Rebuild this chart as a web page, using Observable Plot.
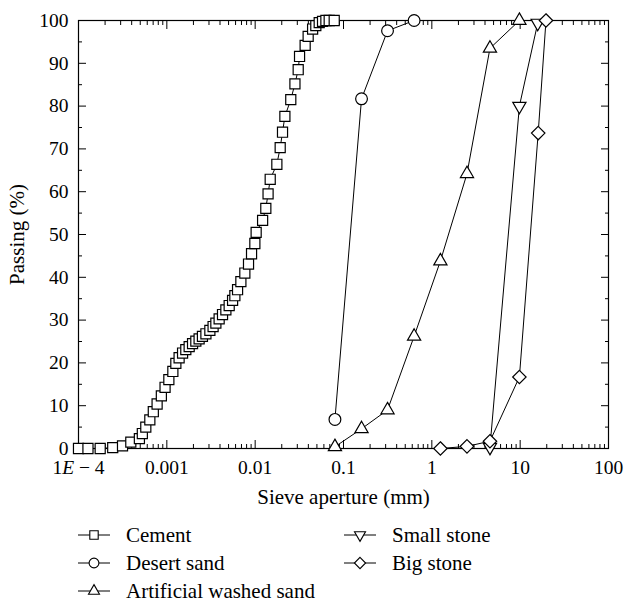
<!DOCTYPE html>
<html><head><meta charset="utf-8">
<script src="https://cdn.jsdelivr.net/npm/d3@7"></script>
<script src="https://cdn.jsdelivr.net/npm/@observablehq/plot@0.6"></script>
<style>
body{margin:0;background:#fff;}
#legend{position:relative;width:624px;height:91px;font-family:"Liberation Serif","Times New Roman",Times,"DejaVu Serif",serif;font-size:21px;color:#000;}
.item{position:absolute;height:28px;display:flex;align-items:center;white-space:nowrap;}
.item svg{display:block;}
#chart svg text{font-family:"Liberation Serif","Times New Roman",Times,"DejaVu Serif",serif !important;}
</style></head><body>
<div id="chart"></div><div id="legend"></div>
<script>
// ---- data ----
const seriesNames = ["Cement", "Desert sand", "Artificial washed sand", "Small stone", "Big stone"];
const cementSize = [1.0e-4, 1.28e-4, 1.76e-4, 2.44e-4, 3.15e-4, 3.91e-4, 4.89e-4, 5.28e-4, 5.78e-4, 6.42e-4,
  7.03e-4, 7.76e-4, 8.67e-4, 9.55e-4, 1.054e-3, 1.17e-3, 1.265e-3, 1.377e-3, 1.507e-3, 1.64e-3,
  1.79e-3, 1.955e-3, 2.13e-3, 2.32e-3, 2.53e-3, 2.77e-3, 3.07e-3, 3.34e-3, 3.59e-3, 3.91e-3,
  4.27e-3, 4.66e-3, 5.08e-3, 5.55e-3, 5.89e-3, 6.32e-3, 6.89e-3, 7.64e-3, 8.41e-3, 9.10e-3,
  9.92e-3, 1.026e-2, 1.214e-2, 1.32e-2, 1.40e-2, 1.48e-2, 1.76e-2, 1.92e-2, 2.04e-2, 2.17e-2,
  2.53e-2, 2.82e-2, 3.07e-2, 3.18e-2, 3.68e-2, 3.98e-2, 4.47e-2, 4.86e-2, 5.31e-2, 5.79e-2,
  6.32e-2, 6.89e-2, 7.85e-2];
const cementPassing = [0, 0, 0, 0.2, 0.6, 1.5, 2.3, 3.5, 5.0, 6.7,
  8.6, 10.4, 12.3, 14.3, 16.1, 18.0, 19.9, 21.2, 22.3, 23.1,
  23.8, 24.5, 25.1, 25.6, 26.2, 26.8, 27.6, 28.5, 29.3, 30.3,
  31.3, 32.4, 33.4, 34.6, 35.7, 37.1, 39.0, 41.0, 43.1, 45.5,
  47.9, 50.5, 53.3, 56.1, 59.5, 62.9, 66.4, 70.3, 73.9, 77.6,
  81.5, 85.2, 88.5, 91.6, 94.2, 96.3, 98.0, 98.8, 99.5, 99.8,
  100, 100, 100];
const desertSandSize = [0.08, 0.16, 0.315, 0.63];
const desertSandPassing = [6.8, 81.7, 97.6, 100];
const washedSandSize = [0.08, 0.16, 0.315, 0.63, 1.25, 2.5, 4.55, 9.8];
const washedSandPassing = [0.4, 4.6, 9.0, 26.2, 43.8, 64.2, 93.5, 100];
const smallStoneSize = [4.55, 9.8, 15.8];
const smallStonePassing = [0.3, 80.0, 99.4];
const bigStoneSize = [1.25, 2.5, 4.55, 9.8, 16.0, 19.6];
const bigStonePassing = [0, 0.5, 1.7, 16.7, 73.7, 100];
const xTickValues = [1e-4, 0.001, 0.01, 0.1, 1, 10, 100];
const xTickLabels = ["1E − 4", "0.001", "0.01", "0.1", "1", "10", "100"];
const yTickValues = [0, 10, 20, 30, 40, 50, 60, 70, 80, 90, 100];
const yMinorValues = [5, 15, 25, 35, 45, 55, 65, 75, 85, 95];

// ---- symbols ----
const rad = size => Math.sqrt(size / Math.PI);
const symSquare = {draw(c, size) { const h = 0.84 * rad(size); c.rect(-h, -h, 2 * h, 2 * h); }};
const symCircle = {draw(c, size) { const r = 0.98 * rad(size); c.moveTo(r, 0); c.arc(0, 0, r, 0, 2 * Math.PI); }};
const symTriUp = {draw(c, size) { const a = 2.2 * rad(size), h = a * Math.sqrt(3) / 2;
  c.moveTo(0, -2 * h / 3); c.lineTo(a / 2, h / 3); c.lineTo(-a / 2, h / 3); c.closePath(); }};
const symTriDown = {draw(c, size) { const a = 2.2 * rad(size), h = a * Math.sqrt(3) / 2;
  c.moveTo(0, 2 * h / 3); c.lineTo(a / 2, -h / 3); c.lineTo(-a / 2, -h / 3); c.closePath(); }};
const symDiamond = {draw(c, size) { const d = 1.12 * rad(size);
  c.moveTo(0, -d); c.lineTo(d, 0); c.lineTo(0, d); c.lineTo(-d, 0); c.closePath(); }};
const symbols = [symSquare, symCircle, symTriUp, symTriDown, symDiamond];

const toRows = (sizes, vals) => sizes.map((s, i) => ({size: s, passing: vals[i]}));
const series = [
  toRows(cementSize, cementPassing),
  toRows(desertSandSize, desertSandPassing),
  toRows(washedSandSize, washedSandPassing),
  toRows(smallStoneSize, smallStonePassing),
  toRows(bigStoneSize, bigStonePassing)
];

const xMinor = [];
for (let e = -4; e < 2; e++) for (let m = 2; m <= 9; m++) xMinor.push(m * Math.pow(10, e));

const marks = [];
series.forEach((rows, i) => {
  marks.push(Plot.line(rows, {x: "size", y: "passing", stroke: "black", strokeWidth: 1}));
});
series.forEach((rows, i) => {
  marks.push(Plot.dot(rows, {x: "size", y: "passing", r: 6, symbol: symbols[i], fill: "white", stroke: "black", strokeWidth: 1.2}));
});

const serif = "'Liberation Serif', 'Times New Roman', Times, 'DejaVu Serif', serif";
const plot = Plot.plot({
  width: 624,
  height: 510,
  marginLeft: 78,
  marginRight: 16,
  marginTop: 20,
  marginBottom: 62,
  style: {fontFamily: serif, fontSize: "19.5px", color: "black", background: "white"},
  x: {type: "log", domain: [1e-4, 100]},
  y: {domain: [0, 100]},
  marks: [
    Plot.frame({stroke: "black", strokeWidth: 1.2}),
    Plot.axisX({ticks: xMinor, tickSize: -4, fill: "none", label: null}),
    Plot.axisX({ticks: xTickValues, tickSize: -8, fill: "none", label: null}),
    Plot.axisX({anchor: "top", ticks: xMinor, tickSize: -4, fill: "none", label: null}),
    Plot.axisX({anchor: "top", ticks: xTickValues, tickSize: -8, fill: "none", label: null}),
    Plot.axisX({ticks: xTickValues, tickSize: 0, tickPadding: 12,
      tickFormat: d => xTickLabels[xTickValues.findIndex(v => Math.abs(v - d) < v * 1e-6)],
      label: "Sieve aperture (mm)", labelAnchor: "center", labelArrow: "none", labelOffset: 55}),
    Plot.axisY({ticks: yMinorValues, tickSize: -4, fill: "none", label: null}),
    Plot.axisY({ticks: yTickValues, tickSize: -8, fill: "none", label: null}),
    Plot.axisY({anchor: "right", ticks: yMinorValues, tickSize: -4, fill: "none", label: null}),
    Plot.axisY({anchor: "right", ticks: yTickValues, tickSize: -8, fill: "none", label: null}),
    Plot.axisY({ticks: yTickValues, tickSize: 0, tickPadding: 10, tickFormat: d => String(d),
      label: "Passing (%)", labelAnchor: "center", labelArrow: "none", labelOffset: 69}),
    ...marks
  ]
});
document.getElementById("chart").appendChild(plot);

// italic E in the first tick label; larger axis titles
plot.querySelectorAll("text").forEach(t => {
  if (t.textContent === "1E − 4") {
    t.textContent = "";
    const ns = "http://www.w3.org/2000/svg";
    const a = document.createElementNS(ns, "tspan"); a.textContent = "1";
    const b = document.createElementNS(ns, "tspan"); b.textContent = "E"; b.setAttribute("font-style", "italic");
    const c = document.createElementNS(ns, "tspan"); c.textContent = " − 4";
    t.append(a, b, c);
  } else if (t.textContent === "Sieve aperture (mm)" || t.textContent === "Passing (%)") {
    t.style.fontSize = "21px";
  }
});

// legend
const legend = document.getElementById("legend");
const legendPos = [[77, 11], [77, 39], [77, 67], [343, 11], [343, 39]];
seriesNames.forEach((name, i) => {
  const p = d3.path(); symbols[i].draw(p, Math.PI * 25);
  const div = document.createElement("div");
  div.className = "item";
  div.style.left = legendPos[i][0] + "px";
  div.style.top = legendPos[i][1] + "px";
  div.innerHTML = `<svg width="34" height="16" viewBox="-17 -8 34 16"><line x1="-16" x2="16" y1="0" y2="0" stroke="black" stroke-width="1"/><path d="${p.toString()}" fill="white" stroke="black" stroke-width="1.1"/></svg><span style="margin-left:15px">${name}</span>`;
  legend.appendChild(div);
});
</script>
</body></html>
